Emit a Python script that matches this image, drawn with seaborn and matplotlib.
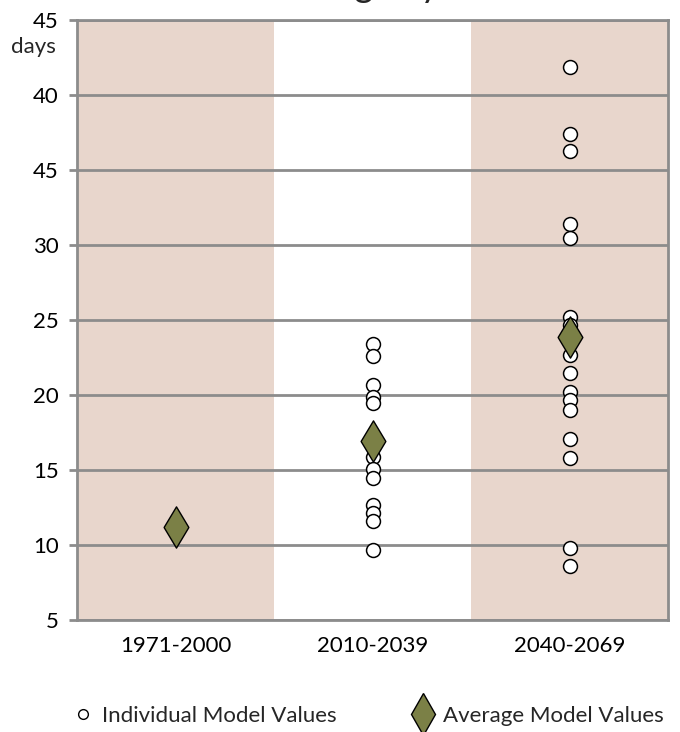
import numpy as np
import pandas as pd
import matplotlib
matplotlib.use("Agg")
import matplotlib.pyplot as plt
from matplotlib.lines import Line2D
import seaborn as sns

# data
periods = ["1971-2000", "2010-2039", "2040-2069"]
models_2010 = [23.4, 22.6, 20.7, 19.9, 19.5, 15.85, 15.1, 14.45, 12.7, 12.15, 11.6, 9.7]
models_2040 = [41.9, 37.4, 36.3, 31.4, 30.5, 25.2, 24.7, 22.7, 21.45, 20.2, 19.7,
               19.0, 17.05, 15.8, 9.8, 8.6]
averages = [11.2, 16.95, 23.85]
ytick_vals = [5, 10, 15, 20, 25, 30, 35, 40, 45]
ytick_labels = ["5", "10", "15", "20", "25", "30", "45", "40", "45"]

indiv = pd.DataFrame({
    "period": ["2010-2039"] * len(models_2010) + ["2040-2069"] * len(models_2040),
    "days": models_2010 + models_2040,
})
avg = pd.DataFrame({"period": periods, "days": averages})

sns.set_style("white")
plt.rcParams["font.family"] = ["Lato", "DejaVu Sans"]

band = "#e8d6cc"
grid_c = "#8c8c8c"
olive = "#7b8046"

fig = plt.figure(figsize=(6.8, 7.32), dpi=100)
ax = fig.add_axes([77 / 680, 1 - 620 / 732, 591 / 680, 600 / 732])

ax.axvspan(-0.5, 0.5, color=band, zorder=0, lw=0)
ax.axvspan(1.5, 2.5, color=band, zorder=0, lw=0)

sns.stripplot(data=indiv, x="period", y="days", order=periods, jitter=False,
              marker="o", s=10, color="white", edgecolor="black", linewidth=1.1,
              ax=ax, zorder=3)
sns.stripplot(data=avg, x="period", y="days", order=periods, jitter=False,
              marker="d", s=21, color=olive, edgecolor="black", linewidth=1.0,
              ax=ax, zorder=4)

ax.set_xlim(-0.5, 2.5)
ax.set_ylim(5, 45)
ax.set_yticks(ytick_vals)
ax.set_yticklabels(ytick_labels)
ax.set_xlabel("")
ax.set_ylabel("")
ax.yaxis.grid(True, color=grid_c, lw=2)
ax.xaxis.grid(False)
ax.set_axisbelow(True)

for sp in ax.spines.values():
    sp.set_visible(True)
    sp.set_color(grid_c)
    sp.set_linewidth(2)

ax.tick_params(axis="y", left=True, length=6, width=2, color=grid_c, pad=7,
               labelsize=16, labelcolor="black")
ax.tick_params(axis="x", bottom=False, pad=8, labelsize=16, labelcolor="black")
ax.yaxis.get_major_ticks()[0].tick1line.set_color("black")

ax.text(-0.035, 43.2, "days", transform=ax.get_yaxis_transform(),
        ha="right", va="center", fontsize=16)

# title is cut off at the top in the original, only the descenders show
fig.text(0.51, 1.0 + 3 / 732, "Freezing days", ha="center", va="baseline",
         fontsize=26)

# two legend entries placed separately, like the reference
leg_y = 1 - 716 / 732
h_ind = Line2D([], [], marker="o", ls="none", markersize=7, markerfacecolor="white",
               markeredgecolor="black", markeredgewidth=1.0)
h_avg = Line2D([], [], marker="d", ls="none", markersize=21, markerfacecolor=olive,
               markeredgecolor="black", markeredgewidth=1.0)
fig.legend([h_ind], ["Individual Model Values"], loc="center left",
           bbox_to_anchor=(74 / 680, leg_y), frameon=False, fontsize=16,
           handlelength=0.8, handletextpad=0.46, borderpad=0, borderaxespad=0)
fig.legend([h_avg], ["Average Model Values"], loc="center left",
           bbox_to_anchor=(414 / 680, leg_y), frameon=False, fontsize=16,
           handlelength=0.8, handletextpad=0.5, borderpad=0, borderaxespad=0)

fig.savefig("out.png", dpi=100)
